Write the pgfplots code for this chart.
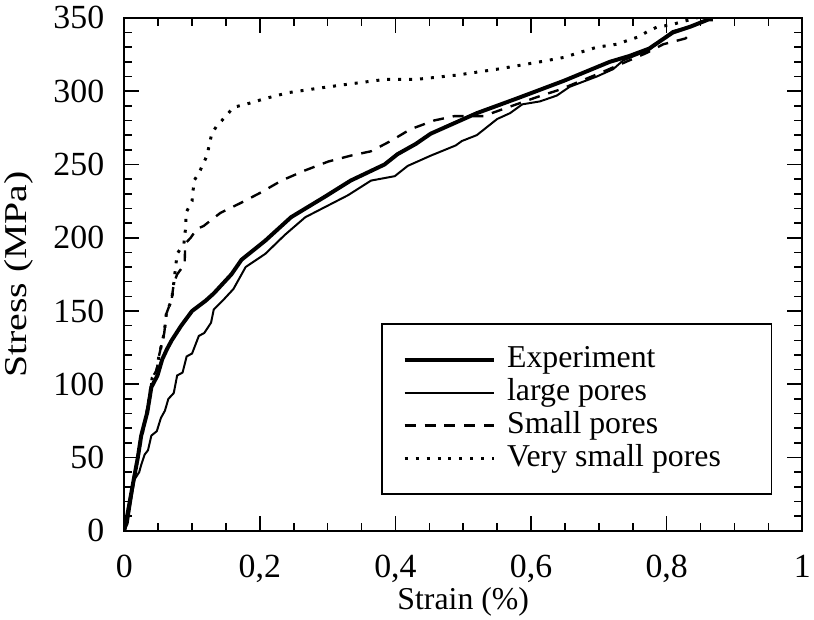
\documentclass[border=0pt]{standalone}
\usepackage{fontspec}
\setmainfont{Liberation Serif}
\usepackage{pgfplots}
\pgfplotsset{compat=1.18}
\usepackage{graphicx}

\newcommand{\chartfont}{\fontsize{32}{38}\selectfont}
\newcommand{\tickfont}{\fontsize{34}{40}\selectfont}

\begin{document}
\begin{tikzpicture}
\begin{axis}[
  scale only axis, width=682pt, height=516pt,
  xmin=0, xmax=1, ymin=0, ymax=350,
  xtick={0,0.2,0.4,0.6,0.8,1},
  xticklabels={},
  ytick={0,50,...,350},
  minor x tick num=3, minor y tick num=4,
  major tick length=15pt, minor tick length=8pt,
  every tick/.style={line width=1.6pt, black},
  axis line style={line width=1.8pt},
  tick label style={font=\tickfont},
  /pgf/number format/assume math mode=true,
  yticklabel style={inner xsep=20pt, inner ysep=0pt},
  label style={font=\chartfont},
  xlabel={Strain (\%)},
  xlabel style={at={(axis description cs:0.5,-0.138)}, anchor=center},
  ylabel={\scalebox{1.25}[1]{Stress (MPa)}},
  ylabel style={at={(axis description cs:-0.155,0.5)}, anchor=center},
  legend image code/.code={\draw[#1] (0pt,0pt) -- (90pt,0pt);},
  legend cell align=left,
  legend style={at={(axis description cs:0.956,0.07)}, anchor=south east,
    font=\chartfont, draw=black, line width=1.6pt, inner xsep=21pt, inner ysep=21pt,
    nodes={inner sep=0pt, text height=23pt, text depth=7pt},
    row sep=3pt,
    /tikz/every odd column/.append style={column sep=11pt}},
  after end axis/.code={
    \path (rel axis cs:0,1) ++(0pt,18pt);
    \path (rel axis cs:0,0.5) ++(-125pt,0pt);
    \node[font=\tickfont, anchor=base] at ([yshift=-47pt]axis cs:0,0) {0};
    \node[font=\tickfont, anchor=base] at ([yshift=-47pt]axis cs:0.2,0) {0,2};
    \node[font=\tickfont, anchor=base] at ([yshift=-47pt]axis cs:0.4,0) {0,4};
    \node[font=\tickfont, anchor=base] at ([yshift=-47pt]axis cs:0.6,0) {0,6};
    \node[font=\tickfont, anchor=base] at ([yshift=-47pt]axis cs:0.8,0) {0,8};
    \node[font=\tickfont, anchor=base] at ([yshift=-47pt]axis cs:1,0) {1};
  },
]
% Experiment
\addplot[black, line width=4pt, line join=round] coordinates {
(0,0) (0.005,12) (0.012,30) (0.02,50) (0.025,65) (0.034,81) (0.04,98)
(0.049,106) (0.056,117) (0.063,124) (0.07,130) (0.084,140) (0.1,150)
(0.12,157) (0.132,162) (0.158,175) (0.173,185) (0.208,198) (0.246,214)
(0.296,228) (0.334,239) (0.384,250) (0.403,257) (0.43,264) (0.452,271)
(0.52,285) (0.579,295) (0.648,307) (0.716,320) (0.745,324) (0.774,329)
(0.809,340) (0.835,344) (0.862,349) (0.868,349)};
\addlegendentry{Experiment}
% large pores
\addplot[black, line width=2pt] coordinates {
(0,0) (0.005,5) (0.01,20) (0.015,35) (0.022,40) (0.025,45) (0.03,52)
(0.035,55) (0.04,65) (0.048,68) (0.054,77) (0.06,82) (0.065,90)
(0.073,94) (0.078,106) (0.086,108) (0.092,119) (0.1,121) (0.11,133)
(0.118,135) (0.128,142) (0.132,151) (0.147,158) (0.161,165) (0.179,180)
(0.208,189) (0.237,202) (0.267,214) (0.33,229) (0.364,239) (0.399,242)
(0.418,249) (0.452,256) (0.489,263) (0.498,266) (0.52,270) (0.55,281)
(0.569,285) (0.587,291) (0.613,293) (0.638,297) (0.657,303) (0.697,310)
(0.721,315) (0.736,321) (0.774,328) (0.789,334) (0.809,341) (0.833,344)
(0.862,349)};
\addlegendentry{large pores}
% Small pores
\addplot[black, line width=2.4pt, dash pattern=on 11pt off 9pt] coordinates {
(0,0) (0.005,12) (0.012,30) (0.02,50) (0.026,65) (0.035,85) (0.041,104)
(0.048,110) (0.051,119) (0.059,135) (0.062,148) (0.07,158) (0.073,169)
(0.078,175) (0.089,182) (0.09,196) (0.098,200) (0.107,206) (0.117,208)
(0.142,217) (0.173,224) (0.202,231) (0.232,239) (0.267,246) (0.301,252)
(0.334,256) (0.364,259) (0.393,266) (0.422,274) (0.457,280) (0.487,283)
(0.53,283) (0.56,288) (0.609,296) (0.642,301) (0.7,312) (0.74,320)
(0.77,326) (0.795,332) (0.828,336) (0.838,341)};
\addlegendentry{Small pores}
% Very small pores
\addplot[black, line width=3pt, dash pattern=on 3pt off 8pt] coordinates {
(0,0) (0.005,12) (0.012,30) (0.02,50) (0.026,65) (0.035,85) (0.041,104)
(0.048,110) (0.051,119) (0.059,135) (0.062,148) (0.07,158) (0.073,169)
(0.078,189) (0.088,196) (0.091,209) (0.091,217) (0.1,225) (0.103,239)
(0.11,244) (0.122,256) (0.129,271) (0.136,276) (0.15,283) (0.161,289)
(0.179,291) (0.208,295) (0.242,299) (0.286,302) (0.334,305) (0.384,308)
(0.43,308) (0.491,311) (0.55,315) (0.613,320) (0.648,323) (0.697,330)
(0.726,332) (0.758,337) (0.773,341) (0.787,344) (0.804,345) (0.836,349)
(0.86,352)};
\addlegendentry{Very small pores\hspace*{30pt}}
\end{axis}
\end{tikzpicture}
\end{document}
